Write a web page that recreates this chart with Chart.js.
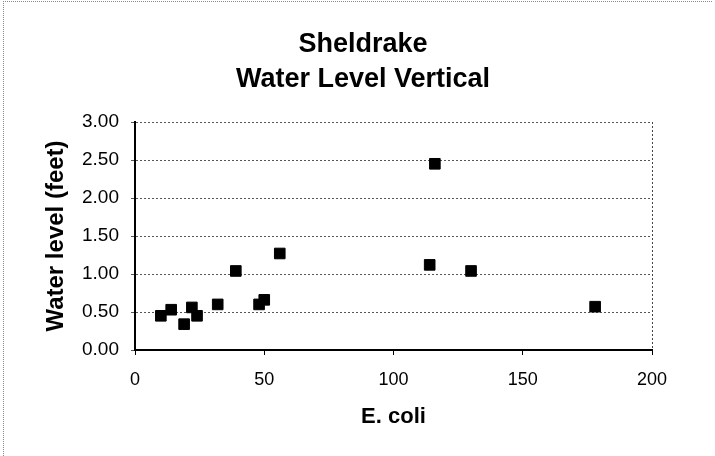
<!DOCTYPE html>
<html>
<head>
<meta charset="utf-8">
<script src="https://cdn.jsdelivr.net/npm/chart.js@4.4.1/dist/chart.umd.min.js"></script>
<style>
    html, body { margin: 0; padding: 0; background: #fff; }
    #wrap { width: 715px; height: 456px; }
</style>
</head>
<body>
<div id="wrap"><canvas id="sheldrakeChart" width="715" height="456"></canvas></div>
<script>
// E. coli counts vs. vertical water level readings
const ecoli = [10, 14, 19, 22, 24, 32, 39, 48, 50, 56, 114, 116, 130, 178];
const waterLevel = [0.45, 0.53, 0.34, 0.56, 0.45, 0.60, 1.04, 0.60, 0.66, 1.27, 1.12, 2.45, 1.04, 0.57];

const xTicks = [0, 50, 100, 150, 200];
const yTicks = [0.00, 0.50, 1.00, 1.50, 2.00, 2.50, 3.00];

const chartTitle = ['Sheldrake', 'Water Level Vertical'];
const xTitle = 'E. coli';
const yTitle = 'Water level (feet)';

const fontFamily = "'Liberation Sans', Arial, Helvetica, sans-serif";

const points = ecoli.map((x, i) => ({ x: x, y: waterLevel[i] }));

// White page with the thin dotted frame along the top and left edges
const framePlugin = {
    id: 'frame',
    beforeDraw(chart) {
        const ctx = chart.ctx;
        ctx.save();
        ctx.fillStyle = '#fff';
        ctx.fillRect(0, 0, chart.width, chart.height);
        ctx.strokeStyle = '#888';
        ctx.lineWidth = 1;
        ctx.setLineDash([1, 1]);
        ctx.beginPath();
        ctx.moveTo(3, 1.5);
        ctx.lineTo(chart.width - 2, 1.5);
        ctx.moveTo(3.5, 1);
        ctx.lineTo(3.5, chart.height);
        ctx.stroke();
        ctx.restore();
    }
};

// Two-line heading, centred over the whole chart object
const headingPlugin = {
    id: 'heading',
    afterDraw(chart) {
        const ctx = chart.ctx;
        ctx.save();
        ctx.fillStyle = '#000';
        ctx.font = 'bold 27px ' + fontFamily;
        ctx.textAlign = 'center';
        ctx.textBaseline = 'middle';
        chartTitle.forEach((line, i) => {
            ctx.fillText(line, 363, 45 + i * 35);
        });
        ctx.restore();
    }
};

new Chart(document.getElementById('sheldrakeChart').getContext('2d'), {
    type: 'scatter',
    data: {
        datasets: [{
            label: 'Water level',
            data: points,
            pointStyle: 'rect',
            pointRadius: 7.5,
            pointBackgroundColor: '#000',
            pointBorderColor: '#000',
            pointBorderWidth: 1,
            showLine: false
        }]
    },
    options: {
        responsive: false,
        animation: false,
        layout: {
            padding: { left: 10, right: 63, top: 122, bottom: 0 }
        },
        plugins: {
            legend: { display: false },
            tooltip: { enabled: false },
            title: { display: false }
        },
        scales: {
            x: {
                type: 'linear',
                min: xTicks[0],
                max: xTicks[xTicks.length - 1],
                afterBuildTicks: (scale) => {
                    scale.ticks = xTicks.map(v => ({ value: v }));
                },
                afterFit: (scale) => {
                    scale.height = 106;
                },
                ticks: {
                    color: '#000',
                    padding: 14,
                    font: { family: fontFamily, size: 18 }
                },
                grid: {
                    drawOnChartArea: true,
                    color: (ctx) => (ctx.tick && ctx.tick.value === 200 ? '#444' : 'rgba(0,0,0,0)'),
                    tickColor: '#000',
                    tickLength: 5,
                    lineWidth: 1
                },
                border: { display: true, color: '#000', width: 2, dash: [2, 2] },
                title: {
                    display: true,
                    text: xTitle,
                    color: '#000',
                    font: { family: fontFamily, size: 22, weight: 'bold' },
                    padding: { top: 0, bottom: 26 }
                }
            },
            y: {
                type: 'linear',
                min: yTicks[0],
                max: yTicks[yTicks.length - 1],
                afterBuildTicks: (scale) => {
                    scale.ticks = yTicks.map(v => ({ value: v }));
                },
                afterFit: (scale) => {
                    scale.width = 125;
                },
                ticks: {
                    color: '#000',
                    padding: 12,
                    font: { family: fontFamily, size: 19 },
                    callback: (value) => Number(value).toFixed(2)
                },
                grid: {
                    color: '#555',
                    lineWidth: 1,
                    tickColor: '#555',
                    tickLength: 4
                },
                border: { display: true, color: '#000', width: 2, dash: [2, 2] },
                title: {
                    display: true,
                    text: yTitle,
                    color: '#000',
                    font: { family: fontFamily, size: 24, weight: 'bold' },
                    padding: { top: 32, bottom: 0 }
                }
            }
        }
    },
    plugins: [framePlugin, headingPlugin]
});
</script>
</body>
</html>
